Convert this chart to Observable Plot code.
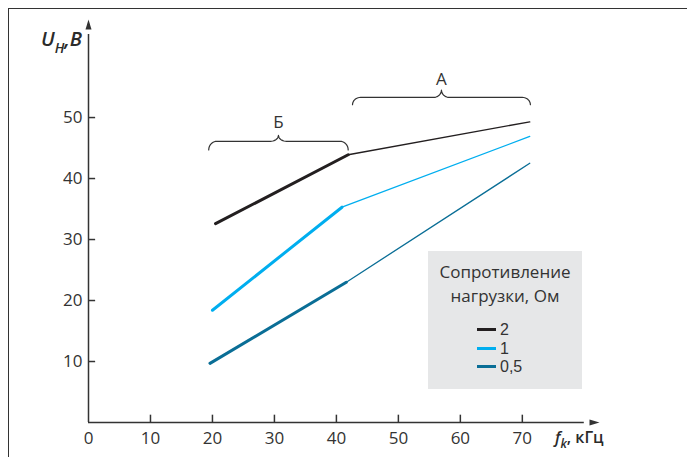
<!DOCTYPE html>
<html><head><meta charset="utf-8">
<script src="https://cdn.jsdelivr.net/npm/d3@7"></script>
<script src="https://cdn.jsdelivr.net/npm/@observablehq/plot@0.6"></script>
<style>
body{margin:0;background:#fff;font-family:"Open Sans",sans-serif;color:#333;}
#wrap{position:relative;width:687px;height:457px;overflow:hidden}
#wrap svg{position:absolute;left:0;top:0}
#frame{position:absolute;left:8px;top:8px;right:-4px;bottom:-4px;border-top:1.5px solid #333;border-left:1.5px solid #333;pointer-events:none}
#ytitle{position:absolute;left:41px;top:29px;font-size:20px;line-height:20px;font-style:italic;font-weight:600;color:#2b2b2b;white-space:nowrap}
#ytitle .sub{font-size:14px;vertical-align:-7px}
#xtitle{position:absolute;left:555px;top:429px;font-size:16px;line-height:16px;font-weight:600;color:#2b2b2b;white-space:nowrap}
#xtitle .sub{font-size:12px;vertical-align:-5px;font-style:italic}
#legend{position:absolute;left:428px;top:251px;width:154px;height:138px;background:#e6e7e8}
#legend .title{position:absolute;left:0;width:100%;text-align:center;font-size:17px;line-height:24px;top:9px;color:#333}
#legend .item{position:absolute;left:49px;font-family:"Liberation Sans",Arial,sans-serif;font-size:16px;line-height:16px;height:16px;color:#333}
#legend .sw{display:inline-block;width:19px;height:3px;vertical-align:middle;margin-right:4px;position:relative;top:-1px}
</style></head>
<body>
<div id="wrap"></div>
<script>
// ---- data ----
const xTicks = [0, 10, 20, 30, 40, 50, 60, 70];
const yTicks = [10, 20, 30, 40, 50];
const seriesNames = ["2", "1", "0,5"];
const seriesColors = ["#231f20", "#00aeef", "#0a6e96"];
// load 2 Ohm
const freq2 = [20.5, 41.9, 71.2];
const volt2 = [32.6, 43.9, 49.3];
// load 1 Ohm
const freq1 = [20.0, 40.9, 71.2];
const volt1 = [18.4, 35.3, 46.9];
// load 0,5 Ohm
const freq05 = [19.6, 41.6, 71.2];
const volt05 = [9.7, 23.0, 42.5];
// braces (annotation)
const braceLabels = ["Б", "А"];
const braceStart = [19.4, 42.6];
const braceEnd = [41.9, 71.3];
const braceTip = [44.7, 52.1];
const braceLine = [46.1, 53.3];
const braceCusp = [47.1, 54.5];
const braceLabelY = [49.1, 56.3];
const legendTitle = "Сопротивление нагрузки, Ом";

const X_MAX = 81, Y_MAX = 64.6;

const rows = [];
[[freq2, volt2], [freq1, volt1], [freq05, volt05]].forEach(([xs, ys], s) => {
  xs.forEach((x, i) => rows.push({series: seriesNames[s], x, y: ys[i], i}));
});

// brace outline points built from the brace arrays
const braceRows = [];
braceLabels.forEach((lab, b) => {
  const x1 = braceStart[b], x2 = braceEnd[b], yt = braceTip[b], yl = braceLine[b], yc = braceCusp[b];
  const mid = (x1 + x2) / 2, rx = 1.3, ry = yl - yt, rc = 1.3, ryc = yc - yl;
  const pts = [];
  const N = 10;
  for (let k = 0; k <= N; k++) { const t = k / N * Math.PI / 2; pts.push([x1 + rx - rx * Math.cos(t), yt + ry * Math.sin(t)]); }
  for (let k = 0; k <= N; k++) { const t = k / N * Math.PI / 2; pts.push([mid - rc + rc * Math.sin(t), yc - ryc * Math.cos(t)]); }
  for (let k = N; k >= 0; k--) { const t = k / N * Math.PI / 2; pts.push([mid + rc - rc * Math.sin(t), yc - ryc * Math.cos(t)]); }
  for (let k = N; k >= 0; k--) { const t = k / N * Math.PI / 2; pts.push([x2 - rx + rx * Math.cos(t), yt + ry * Math.sin(t)]); }
  pts.forEach(([x, y]) => braceRows.push({brace: lab, x, y}));
});

const upArrow = {draw(ctx) { ctx.moveTo(0, -9); ctx.lineTo(3, 1); ctx.lineTo(-3, 1); ctx.closePath(); }};
const rightArrow = {draw(ctx) { ctx.moveTo(9, 0); ctx.lineTo(-1, 3); ctx.lineTo(-1, -3); ctx.closePath(); }};

const axisColor = "#333";
const chart = Plot.plot({
  width: 687, height: 457,
  marginLeft: 88, marginRight: 97, marginTop: 28, marginBottom: 35,
  style: {fontFamily: "Open Sans, sans-serif", background: "transparent"},
  x: {domain: [0, X_MAX], axis: null},
  y: {domain: [0, Y_MAX], axis: null},
  color: {domain: seriesNames, range: seriesColors},
  marks: [
    Plot.ruleX([0], {y1: 0, y2: Y_MAX - 1, stroke: axisColor, strokeWidth: 1.5}),
    Plot.ruleY([0], {x1: 0, x2: X_MAX - 1, stroke: axisColor, strokeWidth: 1.5}),
    Plot.dot([0], {x: 0, y: Y_MAX, symbol: upArrow, fill: axisColor, stroke: null}),
    Plot.dot([0], {x: X_MAX, y: 0, symbol: rightArrow, fill: axisColor, stroke: null}),
    Plot.ruleY(yTicks, {y: d => d, x1: 0, x2: 1.15, stroke: axisColor, strokeWidth: 1.5}),
    Plot.ruleX(xTicks.filter(d => d > 0), {x: d => d, y1: 0, y2: 1.2, stroke: axisColor, strokeWidth: 1.5}),
    Plot.text(yTicks, {x: 0, y: d => d, dx: -6, textAnchor: "end", fontSize: 17, fill: "#333", text: d => String(d)}),
    Plot.text(xTicks, {x: d => d, y: 0, dy: 16, fontSize: 17, fill: "#333", text: d => String(d)}),
    Plot.line(rows.filter(d => d.i >= 1), {x: "x", y: "y", z: "series", stroke: "series", strokeWidth: 1.3}),
    Plot.line(rows.filter(d => d.i <= 1), {x: "x", y: "y", z: "series", stroke: "series", strokeWidth: 3}),
    Plot.line(braceRows, {x: "x", y: "y", z: "brace", stroke: "#333", strokeWidth: 1.2}),
    Plot.text(braceLabels, {x: (d, i) => (braceStart[i] + braceEnd[i]) / 2, y: (d, i) => braceLabelY[i], text: d => d, fontSize: 17, fill: "#333"})
  ]
});
const wrap = document.getElementById("wrap");
wrap.appendChild(chart);

wrap.insertAdjacentHTML("beforeend", `<div id="frame"></div>
<div id="ytitle">U<span class="sub">Н</span>,В</div>
<div id="xtitle"><i>f</i><span class="sub">k</span>, кГц</div>`);

const leg = document.createElement("div");
leg.id = "legend";
const parts = legendTitle.split(" ");
leg.innerHTML = `<div class="title">${parts[0]}<br>${parts.slice(1).join(" ")}</div>` +
  seriesNames.map((n, i) => `<div class="item" style="top:${71 + i * 18.5}px"><span class="sw" style="background:${seriesColors[i]}"></span>${n}</div>`).join("");
wrap.appendChild(leg);
</script>
</body></html>
